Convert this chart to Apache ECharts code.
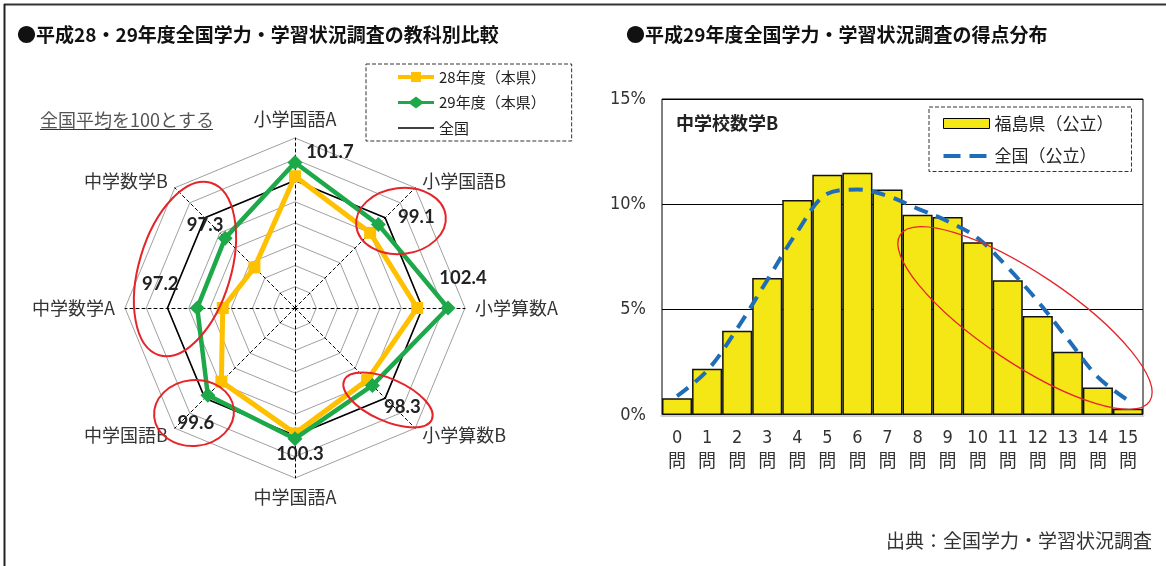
<!DOCTYPE html>
<html><head><meta charset="utf-8">
<script src="https://cdn.jsdelivr.net/npm/echarts@6/dist/echarts.min.js"></script>
<style>html,body{margin:0;padding:0;background:#fff}#c{width:1166px;height:566px}</style>
</head><body><div id="c"></div>
<script>
// ---------- data: radar (subjects listed clockwise from top) ----------
const subjects = ['小学国語A', '小学国語B', '小学算数A', '小学算数B', '中学国語A', '中学国語B', '中学数学A', '中学数学B'];
const pref28 = [100.4, 98.0, 99.5, 97.6, 99.8, 97.8, 94.8, 93.4];
const pref29 = [101.7, 99.1, 102.4, 98.3, 100.3, 99.6, 97.2, 97.3];
const national = [100, 100, 100, 100, 100, 100, 100, 100];
const radarMin = 88, radarMax = 104;

// ---------- data: score distribution ----------
const scoreCats = ['0', '1', '2', '3', '4', '5', '6', '7', '8', '9', '10', '11', '12', '13', '14', '15'];
const fukushima = [0.8, 2.2, 4.0, 6.5, 10.2, 11.4, 11.5, 10.7, 9.5, 9.4, 8.2, 6.4, 4.7, 3.0, 1.3, 0.3];
const zenkoku = [0.9, 2.1, 4.1, 6.4, 8.7, 10.5, 10.7, 10.4, 9.8, 9.2, 8.4, 7.0, 5.4, 3.6, 1.8, 0.7];
const yMin = 0, yMax = 15, yStep = 5;

// ---------- styling helpers ----------
const JP = '"Noto Sans CJK JP", sans-serif';
const NARROW = '"Liberation Sans Narrow", "DejaVu Sans Condensed", "Noto Sans CJK JP", sans-serif';
const YEL = '#FFC000', GRN = '#1DA84A', BLK = '#000';
const BAR_YEL = '#F5E616', BLUE = '#1F6DB6', RED = '#E5252A';

// ECharts radar lays indicators out counter-clockwise; map clockwise list accordingly
const ccw = [0, 7, 6, 5, 4, 3, 2, 1];
const reorder = arr => ccw.map(i => arr[i]);
const labelOffsets = [[35, -10], [38, -8], [15, -30], [30, 22], [5, 15], [-12, 28], [-37, -24], [-20, -13]];

const labelItems = pref29.map((v, k) => ({
  name: 'lbl' + k,
  value: reorder(pref29),
  label: {
    show: true, position: 'inside', offset: labelOffsets[k],
    fontSize: 18.5, fontWeight: 'bold', color: '#222', fontFamily: 'Lato, "Liberation Sans", sans-serif',
    formatter: p => (!Array.isArray(p.value) && p.value === v) ? v.toFixed(1) : ''
  }
}));

const chart = echarts.init(document.getElementById('c'), null, {renderer: 'canvas'});
chart.setOption({
  animation: false,
  backgroundColor: '#fff',
  radar: {
    center: [295, 308], radius: 170, startAngle: 90, shape: 'polygon', splitNumber: 8,
    indicator: reorder(subjects).map(n => ({name: n, min: radarMin, max: radarMax})),
    nameGap: 10,
    axisName: {color: '#333', fontSize: 18, fontFamily: JP},
    splitLine: {lineStyle: {color: '#a0a0a0', width: 1}},
    splitArea: {show: false},
    axisLine: {lineStyle: {color: '#000', width: 1, type: [3, 3]}},
    axisTick: {show: false}, axisLabel: {show: false}
  },
  grid: {left: 662, top: 99, width: 481, height: 316, show: true, borderColor: '#000', borderWidth: 1, backgroundColor: 'transparent'},
  xAxis: {
    type: 'category', data: scoreCats,
    axisLine: {lineStyle: {color: '#cfcfcf', width: 3}},
    axisTick: {show: false},
    axisLabel: {interval: 0, formatter: v => v + '\n問', fontSize: 18, lineHeight: 24, color: '#333', margin: 11, fontFamily: NARROW}
  },
  yAxis: {
    type: 'value', min: yMin, max: yMax, interval: yStep,
    axisLine: {show: false}, axisTick: {show: false},
    splitLine: {lineStyle: {color: '#000', width: 1}},
    axisLabel: {formatter: '{value}%', fontSize: 18, color: '#333', margin: 16, fontFamily: NARROW}
  },
  legend: [{
    data: [
      {name: '28年度（本県）', icon: 'path://M0,4H13V1H23V4H36V8H23V11H13V8H0Z', itemStyle: {color: YEL, borderWidth: 0}},
      {name: '29年度（本県）', icon: 'path://M0,4.5H12L18,0L24,4.5H36V7.5H24L18,12L12,7.5H0Z', itemStyle: {color: GRN, borderWidth: 0}},
      {name: '全国', icon: 'path://M0,0M36,12M0,5.2H36V6.8H0Z', itemStyle: {color: BLK, borderWidth: 0}}
    ],
    orient: 'vertical', left: 366, top: 64,
    itemWidth: 36, itemHeight: 12, itemGap: 10.5,
    padding: [5.5, 26, 5.5, 32],
    borderColor: '#333', borderWidth: 1, borderType: 'dashed',
    textStyle: {fontSize: 15, color: '#222', fontFamily: JP},
    selectedMode: false
  }, {
    data: [
      {name: '福島県（公立）', icon: 'rect', itemStyle: {color: BAR_YEL, borderColor: '#000', borderWidth: 1}},
      {name: '全国（公立）', icon: 'path://M0,0M46,10M0,3H17V7H0ZM26,3H43V7H26Z', itemStyle: {color: BLUE, borderWidth: 0}}
    ],
    orient: 'vertical', left: 929, top: 107,
    itemWidth: 46, itemHeight: 10, itemGap: 15.5,
    padding: [8, 18, 7, 14],
    borderColor: '#333', borderWidth: 1, borderType: 'dashed',
    textStyle: {fontSize: 17, color: '#222', fontFamily: JP},
    selectedMode: false
  }],
  series: [
    {type: 'radar', name: '全国', z: 2, silent: true,
     data: [{name: '全国', value: reorder(national), symbol: 'none',
             lineStyle: {color: BLK, width: 1.6}, itemStyle: {color: BLK}}]},
    {type: 'radar', name: '28年度（本県）', z: 3, silent: true,
     data: [{name: '28年度（本県）', value: reorder(pref28), symbol: 'rect', symbolSize: 12,
             lineStyle: {color: YEL, width: 5}, itemStyle: {color: YEL}}]},
    {type: 'radar', name: '29年度（本県）', z: 4, silent: true,
     data: [{name: '29年度（本県）', value: reorder(pref29), symbol: 'diamond', symbolSize: 15,
             lineStyle: {color: GRN, width: 4.5}, itemStyle: {color: GRN}}]},
    {type: 'radar', name: 'labels', z: 6, silent: true, symbol: 'circle', symbolSize: 1,
     lineStyle: {opacity: 0, width: 0}, itemStyle: {color: 'rgba(0,0,0,0)'},
     data: labelItems},
    {type: 'bar', name: '福島県（公立）', data: fukushima, barCategoryGap: '0%', silent: true,
     itemStyle: {color: BAR_YEL, borderColor: '#111', borderWidth: 1.5}},
    {type: 'line', name: '全国（公立）', data: zenkoku, smooth: 0.35, symbol: 'none', z: 4, silent: true,
     lineStyle: {color: BLUE, width: 4, type: [14, 9]}, itemStyle: {color: BLUE}}
  ],
  graphic: [
    {type: 'line', shape: {x1: 4, y1: 4.5, x2: 1166, y2: 4.5}, style: {stroke: '#333', lineWidth: 2}},
    {type: 'line', shape: {x1: 4.5, y1: 4, x2: 4.5, y2: 566}, style: {stroke: '#222', lineWidth: 2}},
    {type: 'text', x: 17, y: 35, style: {text: '●平成28・29年度全国学力・学習状況調査の教科別比較', font: 'bold 19px ' + JP, fill: '#111', verticalAlign: 'middle'}},
    {type: 'text', x: 626, y: 35, style: {text: '●平成29年度全国学力・学習状況調査の得点分布', font: 'bold 19px ' + JP, fill: '#111', verticalAlign: 'middle'}},
    {type: 'text', x: 40, y: 120, style: {text: '全国平均を100とする', font: '18px ' + JP, fill: '#555', verticalAlign: 'middle'}},
    {type: 'line', shape: {x1: 40, y1: 129.5, x2: 213, y2: 129.5}, style: {stroke: '#333', lineWidth: 1}},
    {type: 'text', x: 676, y: 123, z: 10, style: {text: '中学校数学B', font: 'bold 18px ' + JP, fill: '#222', verticalAlign: 'middle'}},
    {type: 'text', x: 1152, y: 541, style: {text: '出典：全国学力・学習状況調査', font: '19px ' + JP, fill: '#333', align: 'right', verticalAlign: 'middle'}},
    {type: 'ellipse', x: 185, y: 269, rotation: -0.29, shape: {cx: 0, cy: 0, rx: 46, ry: 90}, style: {fill: 'none', stroke: RED, lineWidth: 2}, z: 100},
    {type: 'ellipse', x: 401, y: 221, rotation: 0.12, shape: {cx: 0, cy: 0, rx: 45, ry: 33}, style: {fill: 'none', stroke: RED, lineWidth: 2}, z: 100},
    {type: 'ellipse', x: 388, y: 400, rotation: -0.42, shape: {cx: 0, cy: 0, rx: 48, ry: 21}, style: {fill: 'none', stroke: RED, lineWidth: 2}, z: 100},
    {type: 'ellipse', x: 194, y: 413, rotation: 0.1, shape: {cx: 0, cy: 0, rx: 40, ry: 33}, style: {fill: 'none', stroke: RED, lineWidth: 2}, z: 100},
    {type: 'ellipse', x: 1025, y: 318, rotation: -0.59, shape: {cx: 0, cy: 0, rx: 150, ry: 45}, style: {fill: 'none', stroke: RED, lineWidth: 1.3}, z: 100}
  ]
});
</script>
</body></html>
